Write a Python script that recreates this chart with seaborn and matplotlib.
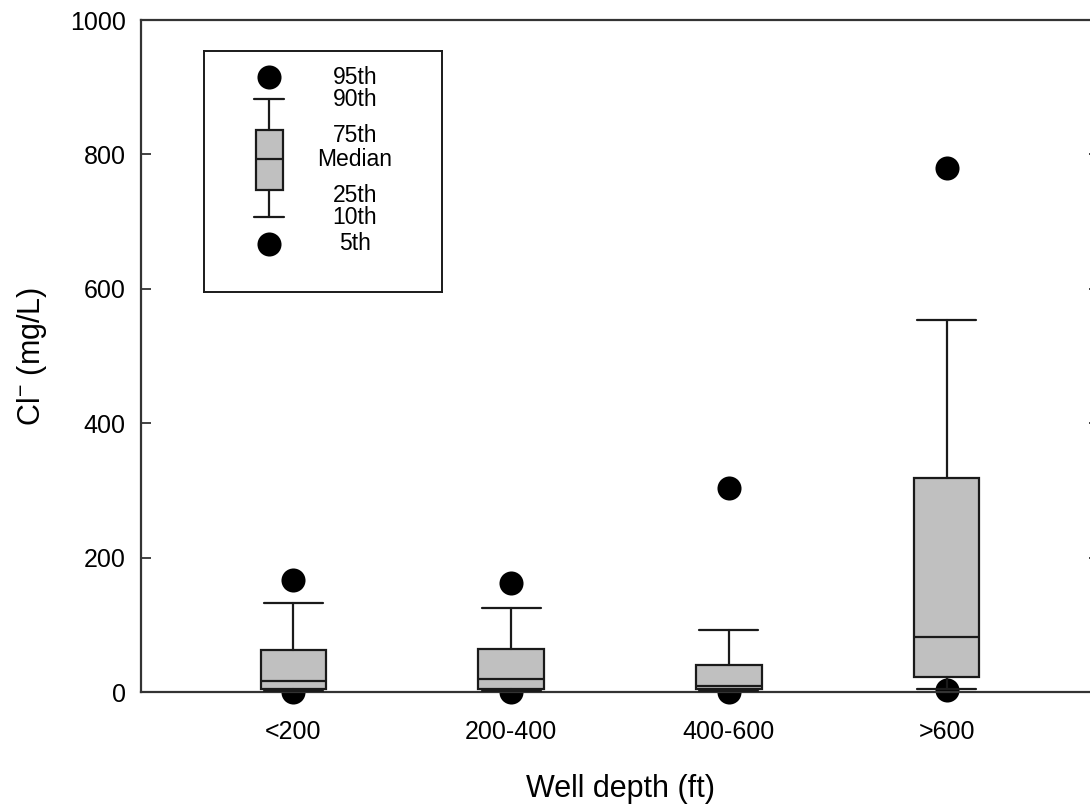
import numpy as np
import pandas as pd
import matplotlib
matplotlib.use("Agg")
import matplotlib.pyplot as plt
import seaborn as sns

# ---- data ----
categories = ["<200", "200-400", "400-600", ">600"]
p5 = [0, 0, 0, 3]
p10 = [1, 1, 1, 4.5]
p25 = [4.5, 5, 4.5, 22]
p50 = [16, 19, 9, 82]
p75 = [62.5, 64, 40, 318]
p90 = [132, 125, 92, 554]
p95 = [167, 162, 304, 780]
y_ticks = [0, 200, 400, 600, 800, 1000]
key_labels = ["95th", "90th", "75th", "Median", "25th", "10th", "5th"]

sns.set_theme(style="ticks")
plt.rcParams["font.family"] = ["Liberation Sans", "DejaVu Sans"]
plt.rcParams["mathtext.fontset"] = "custom"
plt.rcParams["mathtext.rm"] = "Liberation Sans"
plt.rcParams["mathtext.it"] = "Liberation Sans"
plt.rcParams["text.color"] = "black"
plt.rcParams["axes.labelcolor"] = "black"

W, H = 1090, 807
fig = plt.figure(figsize=(W / 100, H / 100), dpi=100)
L, R, T, B = 141, 1099, 20, 692
ax = fig.add_axes([L / W, (H - B) / H, (R - L) / W, (B - T) / H])

df = pd.DataFrame({"cat": categories, "p5": p5, "p10": p10, "p25": p25,
                   "p50": p50, "p75": p75, "p90": p90, "p95": p95})
pos = np.arange(len(categories))
df["pos"] = pos

box_fill = "#c0c0c0"
line_kw = dict(color="#1a1a1a", linewidth=1.6)


def draw_boxes(axis, frame, width, capw):
    stats = [dict(med=r.p50, q1=r.p25, q3=r.p75, whislo=r.p10, whishi=r.p90,
                  fliers=[]) for r in frame.itertuples()]
    axis.bxp(stats, positions=list(frame["pos"]), widths=width,
             capwidths=capw, showfliers=False, patch_artist=True,
             boxprops=dict(facecolor=box_fill, edgecolor="#1a1a1a", linewidth=1.6),
             medianprops=line_kw, whiskerprops=line_kw, capprops=line_kw,
             manage_ticks=False, zorder=3)


draw_boxes(ax, df, 0.30, 0.27)

long = pd.concat([
    pd.DataFrame({"pos": pos, "val": df["p95"]}),
    pd.DataFrame({"pos": pos, "val": df["p5"]}),
])
sns.scatterplot(data=long, x="pos", y="val", ax=ax, color="black", s=300,
                edgecolor="black", linewidth=0, zorder=2, clip_on=False,
                legend=False)

ax.set_xlim(-0.7, 3.7)
ax.set_ylim(0, 1000)
ax.set_xticks(pos)
ax.set_xticklabels(categories)
ax.set_yticks(y_ticks)
ax.tick_params(axis="x", length=0, pad=20, labelsize=18, colors="black")
ax.tick_params(axis="y", direction="in", length=7, width=1.3, pad=11,
               labelsize=18, right=True, colors="#333333", labelcolor="black")
for sp in ax.spines.values():
    sp.set_color("#333333")
    sp.set_linewidth(1.6)
    sp.set_visible(True)
ax.set_xlabel("Well depth (ft)", fontsize=22, labelpad=22)
ax.set_ylabel("Cl$^{-}$ (mg/L)", fontsize=22, labelpad=15)
ax.grid(False)

# ---- key box (legend) ----
kx0, ky0, kx1, ky1 = 204, 51, 442, 292
kax = fig.add_axes([kx0 / W, (H - ky1) / H, (kx1 - kx0) / W, (ky1 - ky0) / H])
kax.set_xlim(0, kx1 - kx0)
kax.set_ylim(ky1 - ky0, 0)
kax.set_xticks([])
kax.set_yticks([])
for sp in kax.spines.values():
    sp.set_color("#1a1a1a")
    sp.set_linewidth(1.4)
kax.set_facecolor("white")
key_df = pd.DataFrame({"pos": [65], "p5": [193], "p10": [166], "p25": [139],
                       "p50": [108], "p75": [79], "p90": [48], "p95": [26]})
draw_boxes(kax, key_df, 27, 30)
sns.scatterplot(x=[65, 65], y=[26, 193], ax=kax, color="black", s=300,
                linewidth=0, zorder=2, legend=False)
key_y = [26, 49, 84, 108, 144, 167, 192]
for lab, yy in zip(key_labels, key_y):
    kax.text(151, yy, lab, ha="center", va="center", fontsize=16.5)

fig.savefig("out.png", dpi=100, facecolor="white")
